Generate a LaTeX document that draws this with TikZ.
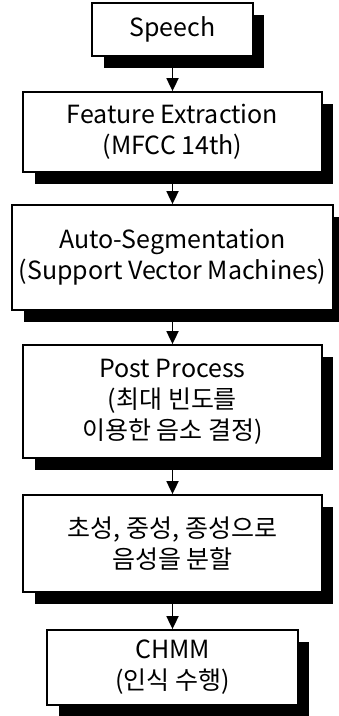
\documentclass[tikz,border=0pt]{standalone}
\usepackage{fontspec}
\setmainfont{Noto Sans CJK KR}
\usetikzlibrary{arrows.meta,backgrounds}
\begin{document}
\begin{tikzpicture}[x=1pt,y=-1pt,
  box/.style={draw=black, fill=white, line width=1.8pt, align=center, inner sep=0pt,
    font=\fontsize{25}{31}\selectfont},
  arr/.style={line width=1.8pt, -{Triangle[width=12pt,length=13pt]}},
  shade/.style={fill=black}]
\useasboundingbox (0,0) rectangle (339,716);
\node[box, minimum width=161pt, minimum height=53pt] (speech) at (172.5,29.5) {Speech};
\node[box, minimum width=299pt, minimum height=80pt] (feat) at (172.5,132) {Feature Extraction\\(MFCC 14th)};
\node[box, minimum width=321pt, minimum height=105pt] (auto) at (172.5,257.5) {Auto-Segmentation\\(Support Vector Machines)};
\node[box, minimum width=299pt, minimum height=113pt] (post) at (172.5,401.5) {Post Process\\(최대 빈도를\\이용한 음소 결정)};
\node[box, minimum width=299pt, minimum height=97pt] (split) at (172.5,543.5) {초성, 중성, 종성으로\\음성을 분할};
\node[box, minimum width=251pt, minimum height=75pt] (chmm) at (172.5,667.5) {CHMM\\(인식 수행)};
\begin{scope}[on background layer]
\foreach \n in {speech,feat,auto,post,split,chmm}
  \fill[shade] ([xshift=13pt,yshift=-13pt]\n.north west) rectangle ([xshift=10pt,yshift=-11pt]\n.south east);
\end{scope}
\draw[arr] (speech.south) -- (feat.north);
\draw[arr] (feat.south) -- (auto.north);
\draw[arr] (auto.south) -- (post.north);
\draw[arr] (post.south) -- (split.north);
\draw[arr] (split.south) -- (chmm.north);
\end{tikzpicture}
\end{document}
